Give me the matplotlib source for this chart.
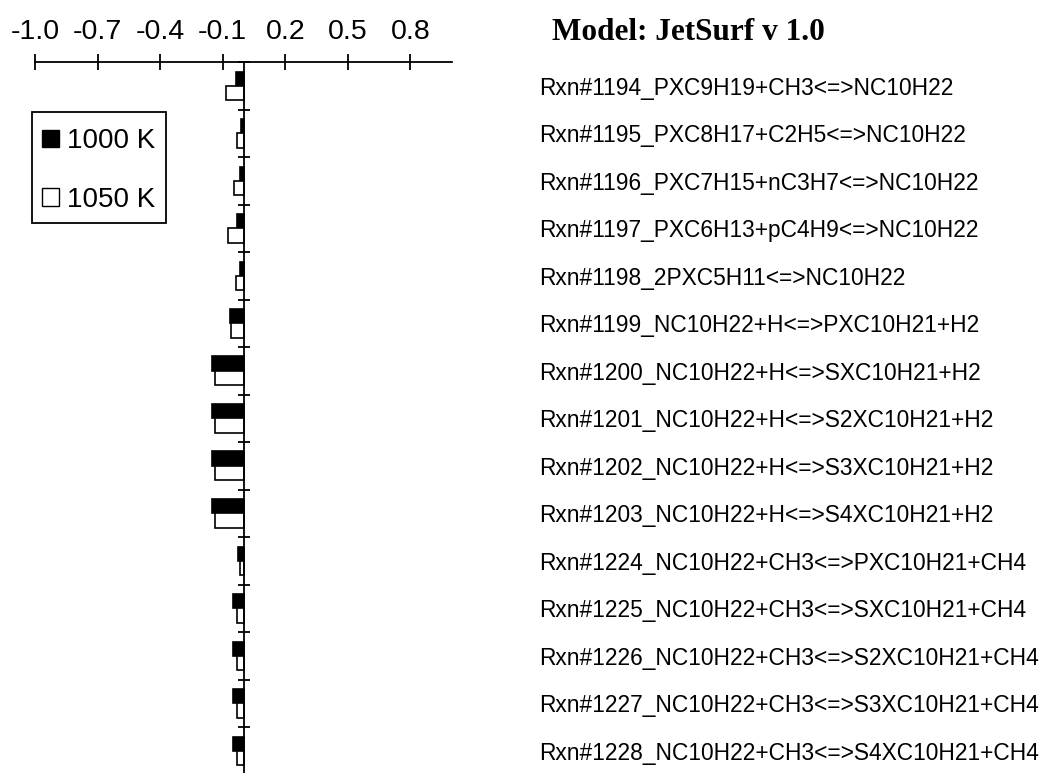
import numpy as np
import matplotlib
matplotlib.use("Agg")
import matplotlib.pyplot as plt
from matplotlib.patches import Patch, Rectangle

plt.rcParams["font.family"] = ["Liberation Sans", "DejaVu Sans"]
plt.rcParams["axes.unicode_minus"] = False

reactions = [
    "Rxn#1194_PXC9H19+CH3<=>NC10H22",
    "Rxn#1195_PXC8H17+C2H5<=>NC10H22",
    "Rxn#1196_PXC7H15+nC3H7<=>NC10H22",
    "Rxn#1197_PXC6H13+pC4H9<=>NC10H22",
    "Rxn#1198_2PXC5H11<=>NC10H22",
    "Rxn#1199_NC10H22+H<=>PXC10H21+H2",
    "Rxn#1200_NC10H22+H<=>SXC10H21+H2",
    "Rxn#1201_NC10H22+H<=>S2XC10H21+H2",
    "Rxn#1202_NC10H22+H<=>S3XC10H21+H2",
    "Rxn#1203_NC10H22+H<=>S4XC10H21+H2",
    "Rxn#1224_NC10H22+CH3<=>PXC10H21+CH4",
    "Rxn#1225_NC10H22+CH3<=>SXC10H21+CH4",
    "Rxn#1226_NC10H22+CH3<=>S2XC10H21+CH4",
    "Rxn#1227_NC10H22+CH3<=>S3XC10H21+CH4",
    "Rxn#1228_NC10H22+CH3<=>S4XC10H21+CH4",
]
temperatures = ["1000 K", "1050 K"]
sens_1000 = [-0.035, -0.014, -0.017, -0.033, -0.017, -0.065, -0.152, -0.152,
             -0.152, -0.152, -0.028, -0.052, -0.052, -0.052, -0.052]
sens_1050 = [-0.085, -0.030, -0.044, -0.076, -0.038, -0.060, -0.138, -0.138,
             -0.138, -0.138, -0.017, -0.030, -0.030, -0.030, -0.030]
xticks = [-1.0, -0.7, -0.4, -0.1, 0.2, 0.5, 0.8]
title = "Model: JetSurf v 1.0"

W, H = 1046, 773
fig = plt.figure(figsize=(W / 100, H / 100), dpi=100)
ax = fig.add_axes([35 / W, (773 - 774.5) / H, (452 - 35) / W, (774.5 - 62) / H])

n = len(reactions)
y = np.arange(n)
bh = 0.3
ax.barh(y - bh / 2, sens_1000, height=bh, color="black", edgecolor="black",
        linewidth=1.2, zorder=2)
ax.barh(y + bh / 2, sens_1050, height=bh, color="white", edgecolor="black",
        linewidth=1.2, zorder=2)

ax.set_xlim(-1.0, 1.0)
ax.set_ylim(n - 0.5, -0.5)

for s in ["right", "bottom"]:
    ax.spines[s].set_visible(False)
ax.spines["top"].set_linewidth(1.3)
ax.spines["left"].set_linewidth(1.3)
ax.spines["left"].set_position(("data", 0))
ax.spines["left"].set_zorder(3)

ax.xaxis.set_ticks_position("top")
ax.set_xticks(xticks)
ax.set_xticklabels([f"{v:.1f}" for v in xticks])
ax.tick_params(axis="x", direction="inout", length=12, width=1.3,
               labelsize=20.5, pad=6, top=True, bottom=False,
               labeltop=True, labelbottom=False)

# category boundary ticks on the zero line, reaction names on the right
ax.set_yticks(np.arange(-0.5, n, 1.0))
ax.set_yticks(y, minor=True)
ax.set_yticklabels(reactions, minor=True)
ax.tick_params(axis="y", which="major", direction="inout", length=9,
               width=1.3, left=True, right=False, labelleft=False,
               labelright=False)
ax.tick_params(axis="y", which="minor", length=0, left=False, right=True,
               labelleft=False, labelright=True, labelsize=16.4, pad=63)
for t in ax.get_yticklabels(minor=True):
    t.set_horizontalalignment("left")

fig.text(552 / W, 1 - 32 / H, title, family="Liberation Serif",
         fontweight="bold", fontsize=22.5, ha="left", va="center")

# legend entries with a separately drawn box around them
handles = [Patch(facecolor="black", edgecolor="black"),
           Patch(facecolor="white", edgecolor="black")]
leg = fig.legend(handles, temperatures, loc="center left",
                 bbox_to_anchor=(42 / W, 1 - 170.5 / H), fontsize=20,
                 frameon=False, handlelength=0.6, handleheight=0.6,
                 handletextpad=0.3, labelspacing=1.16, borderpad=0,
                 borderaxespad=0)
fig.patches.append(Rectangle((32 / W, 1 - 223 / H), (166 - 32) / W,
                             (223 - 112) / H, transform=fig.transFigure,
                             facecolor="none", edgecolor="black",
                             linewidth=1.3))

fig.savefig("out.png", dpi=100, facecolor="white")
